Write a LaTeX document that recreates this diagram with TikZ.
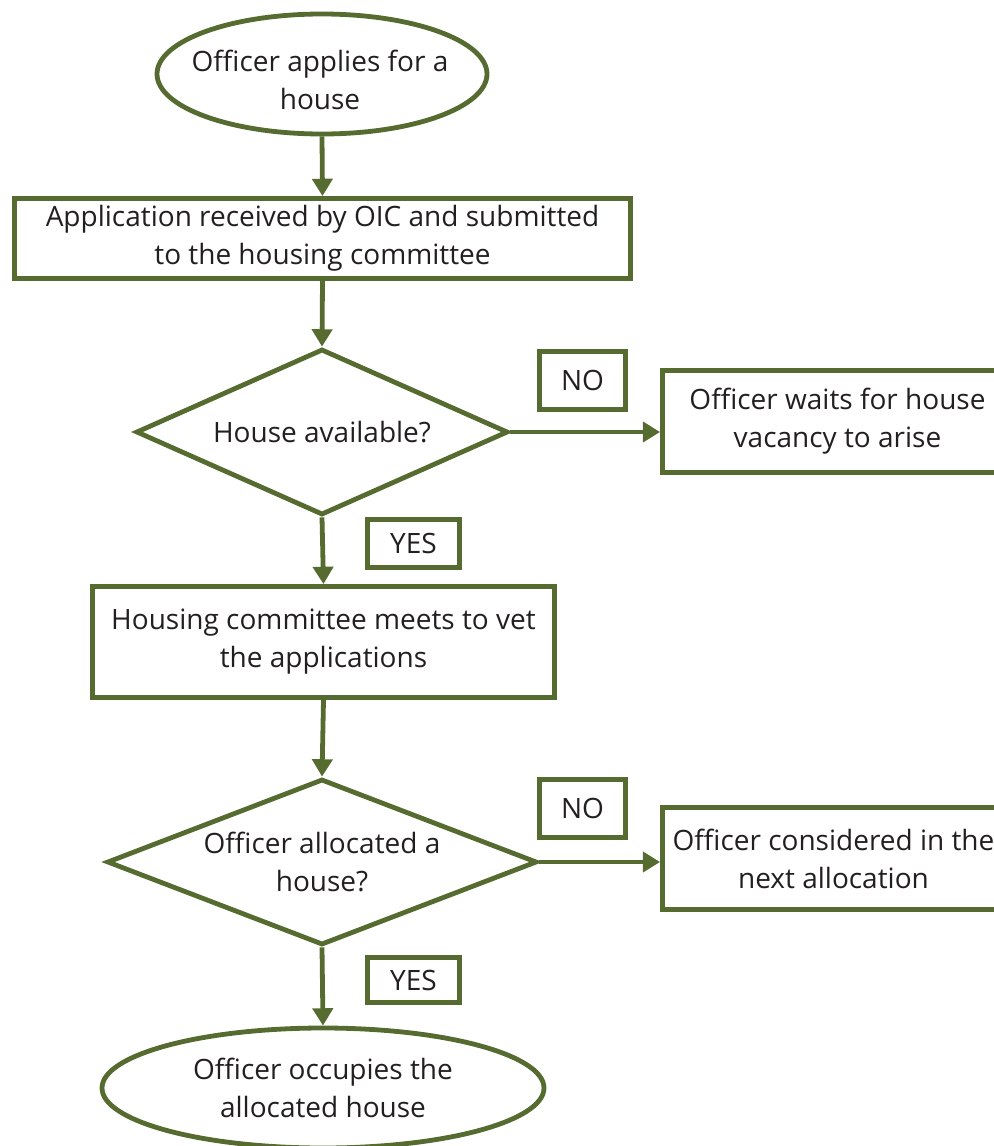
\documentclass[tikz,border=0pt]{standalone}
\usepackage{fontspec}
\setmainfont{Open Sans}
\usetikzlibrary{shapes.geometric,arrows.meta}
\definecolor{olive}{HTML}{556B2F}
\definecolor{ink}{HTML}{231F20}
\begin{document}
\begin{tikzpicture}[x=0.75pt,y=-0.75pt,
  every node/.style={text=ink,font=\fontsize{21}{28.5}\selectfont,align=center,inner sep=0pt},
  shp/.style={draw=olive,line width=3.6pt},
  oval/.style={shp,ellipse},
  box/.style={shp,rectangle},
  dia/.style={shp,diamond},
  tag/.style={shp,rectangle},
  conn/.style={draw=olive,line width=3.6pt,-{Triangle[width=15pt,length=13pt]}}]
\useasboundingbox (0,0) rectangle (994,1146);
\clip (0,0) rectangle (994,1146);
\node[oval,minimum width=330*0.75pt,minimum height=120*0.75pt] (start) at (322,74) {};
\node (starttext) at (320,80) {Officer applies for a\\house};
\node[box,minimum width=616*0.75pt,minimum height=80*0.75pt] (recv) at (322.5,238.5) {Application received by OIC and submitted\\to the housing committee};
\node[dia,aspect=2.24,minimum width=372*0.75pt,minimum height=166*0.75pt] (avail) at (322,432) {House available?};
\node[tag,minimum width=86*0.75pt,minimum height=58*0.75pt] (no1) at (582.5,380.5) {NO};
\node[box,minimum width=350*0.75pt,minimum height=102*0.75pt] (wait) at (837.5,421.5) {Officer waits for house\\vacancy to arise};
\node[tag,minimum width=92*0.75pt,minimum height=48*0.75pt] (yes1) at (413.5,543.5) {YES};
\node[box,minimum width=462*0.75pt,minimum height=111*0.75pt] (meet) at (323.5,642) {Housing committee meets to vet\\the applications};
\node[dia,aspect=2.59,minimum width=430*0.75pt,minimum height=166*0.75pt] (alloc) at (322,862) {Officer allocated a\\house?};
\node[tag,minimum width=86*0.75pt,minimum height=58*0.75pt] (no2) at (582.5,808.5) {NO};
\node[box,minimum width=342*0.75pt,minimum height=102*0.75pt] (next) at (833.5,858.5) {Officer considered in the\\next allocation};
\node[tag,minimum width=92*0.75pt,minimum height=45*0.75pt] (yes2) at (413.5,980) {YES};
\node[oval,minimum width=442*0.75pt,minimum height=120*0.75pt] (occupy) at (323,1088) {Officer occupies the\\allocated house};
\draw[conn] (start.south) -- (recv.north);
\draw[conn] (recv.south) -- (avail.north);
\draw[conn] (avail.east) -- (avail.east -| wait.west);
\draw[conn] (avail.south) -- (meet.north);
\draw[conn] (meet.south) -- (alloc.north);
\draw[conn] (alloc.east) -- (alloc.east -| next.west);
\draw[conn] (alloc.south) -- (occupy.north);
\end{tikzpicture}
\end{document}
